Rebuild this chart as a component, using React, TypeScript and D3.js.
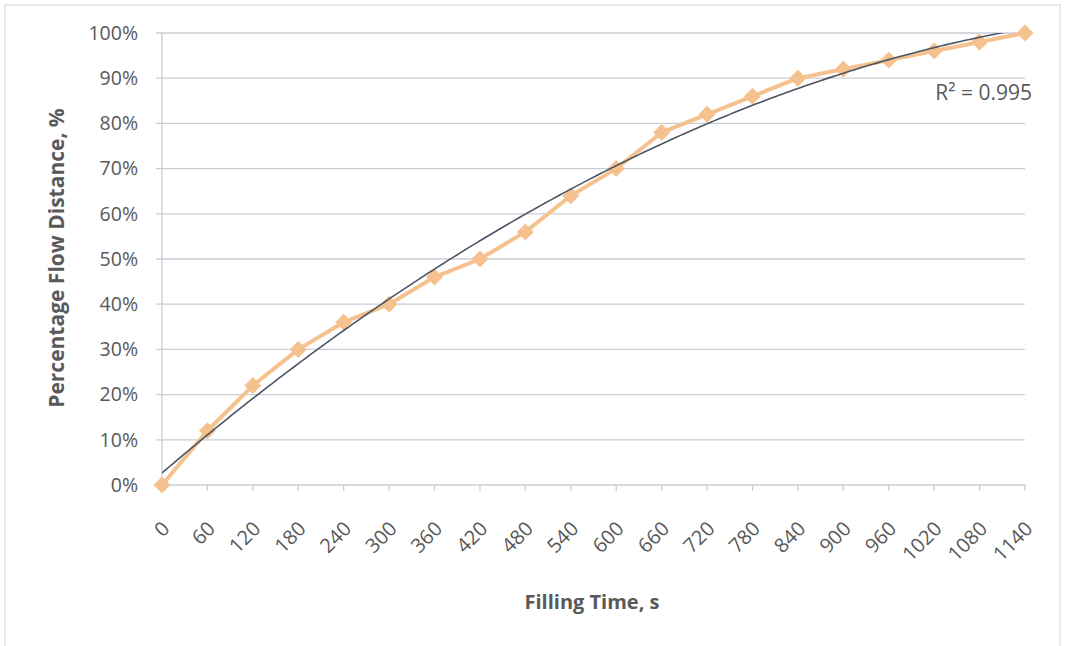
import React from "react";
import * as d3 from "d3";

const times = [0, 60, 120, 180, 240, 300, 360, 420, 480, 540, 600, 660, 720, 780, 840, 900, 960, 1020, 1080, 1140];
const percent = [0, 12, 22, 30, 36, 40, 46, 50, 56, 64, 70, 78, 82, 86, 90, 92, 94, 96, 98, 100];
const yTicks = [0, 10, 20, 30, 40, 50, 60, 70, 80, 90, 100];
const r2Label = "R² = 0.995";
const xTitle = "Filling Time, s";
const yTitle = "Percentage Flow Distance, %";

function quadFit(xs: number[], ys: number[]) {
  // least squares y = a + b x + c x^2 (polynomial trendline)
  const n = xs.length;
  let s0 = n, s1 = 0, s2 = 0, s3 = 0, s4 = 0, t0 = 0, t1 = 0, t2 = 0;
  for (let i = 0; i < n; i++) {
    const x = xs[i], y = ys[i];
    s1 += x; s2 += x * x; s3 += x * x * x; s4 += x * x * x * x;
    t0 += y; t1 += x * y; t2 += x * x * y;
  }
  const M = [[s0, s1, s2, t0], [s1, s2, s3, t1], [s2, s3, s4, t2]];
  for (let i = 0; i < 3; i++) {
    for (let k = i + 1; k < 3; k++) {
      const f = M[k][i] / M[i][i];
      for (let j = i; j < 4; j++) M[k][j] -= f * M[i][j];
    }
  }
  const c = M[2][3] / M[2][2];
  const b = (M[1][3] - M[1][2] * c) / M[1][1];
  const a = (M[0][3] - M[0][1] * b - M[0][2] * c) / M[0][0];
  return (x: number) => a + b * x + c * x * x;
}

export default function App() {
  const W = 1067, H = 646;
  const left = 162, right = 1025, top = 33, bottom = 485;
  const x = d3.scaleLinear().domain([0, 1140]).range([left, right]);
  const y = d3.scaleLinear().domain([0, 100]).range([bottom, top]);
  const font = "'Open Sans', sans-serif";
  const grey = "#595959";
  const gridC = "#c9cdd6";

  const fit = quadFit(times, percent);
  const fitPts = d3.range(0, 1140.01, 5).map((t) => [t, fit(t)] as [number, number]);
  const lineGen = d3.line<[number, number]>().x((d) => x(d[0])).y((d) => y(d[1]));
  const dataPts = times.map((t, i) => [t, percent[i]] as [number, number]);

  return (
    <svg width={W} height={H} style={{ position: "absolute", left: 0, top: 0, background: "#fff" }}>
      <defs>
        <clipPath id="plot">
          <rect x={left} y={top} width={right - left} height={bottom - top} />
        </clipPath>
      </defs>
      <rect x={5} y={5} width={1055} height={660} fill="#fff" stroke="#e2e2e2" strokeWidth={1.5} />
      {yTicks.map((v) => (
        <g key={v}>
          <line x1={left - 6} x2={right} y1={y(v)} y2={y(v)} stroke={gridC} strokeWidth={1.3} />
          <text x={left - 24} y={y(v)} dy="0.35em" textAnchor="end" fontFamily={font} fontSize={19.5} fill={grey}>
            {v}%
          </text>
        </g>
      ))}
      <line x1={left} x2={left} y1={top} y2={bottom} stroke={gridC} strokeWidth={1.3} />
      {times.map((t) => (
        <line key={t} x1={x(t)} x2={x(t)} y1={bottom} y2={bottom + 6} stroke={gridC} strokeWidth={1.3} />
      ))}
      {times.map((t) => (
        <text
          key={t}
          transform={`translate(${x(t) + 4},${bottom + 40}) rotate(-45)`}
          textAnchor="end"
          dy="0.35em"
          fontFamily={font}
          fontSize={20}
          fill={grey}
        >
          {t}
        </text>
      ))}
      <path d={lineGen(dataPts) || ""} fill="none" stroke="#f5c18e" strokeWidth={4} strokeLinejoin="round" />
      {dataPts.map((p, i) => (
        <rect
          key={i}
          x={-6}
          y={-6}
          width={12}
          height={12}
          fill="#f5c18e"
          transform={`translate(${x(p[0])},${y(p[1])}) rotate(45)`}
        />
      ))}
      <path d={lineGen(fitPts) || ""} fill="none" stroke="#4b5563" strokeWidth={1.6} clipPath="url(#plot)" />
      <text x={1032} y={100} textAnchor="end" fontFamily={font} fontSize={21} fill={grey}>
        {r2Label}
      </text>
      <text x={592} y={609} textAnchor="middle" fontFamily={font} fontSize={20} fontWeight="bold" fill={grey}>
        {xTitle}
      </text>
      <text
        transform={`translate(57,258) rotate(-90)`}
        textAnchor="middle"
        dy="0.35em"
        fontFamily={font}
        fontSize={21}
        fontWeight="bold"
        fill={grey}
      >
        {yTitle}
      </text>
    </svg>
  );
}
